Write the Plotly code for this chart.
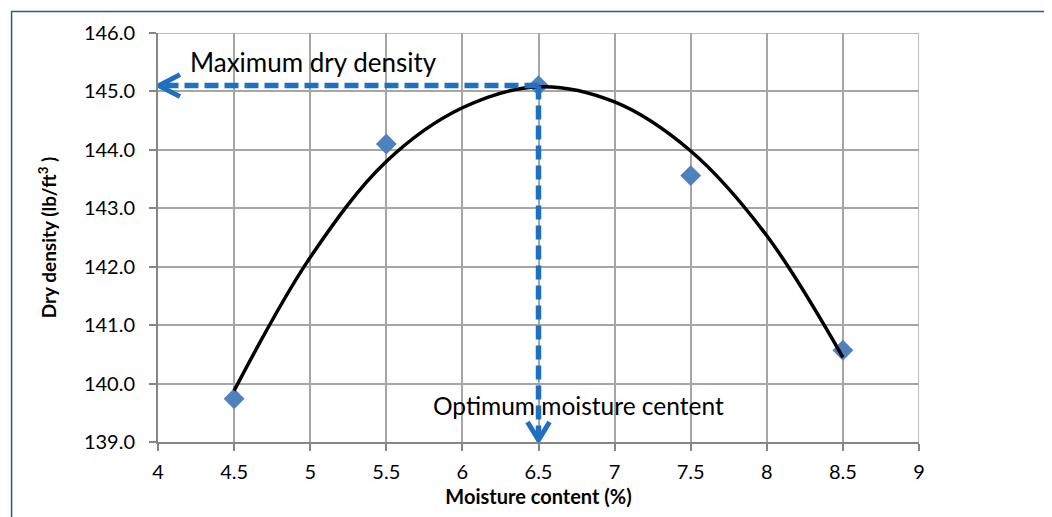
import plotly.graph_objects as go

# measured points
moisture = [4.5, 5.5, 6.5, 7.5, 8.5]
dry_density = [139.74, 144.1, 145.1, 143.56, 140.57]

# trendline
trend_x = [4.5, 5.0, 5.5, 6.0, 6.5, 7.0, 7.5, 8.0, 8.5]
trend_y = [139.88, 142.16, 143.8, 144.72, 145.08, 144.82, 143.98, 142.53, 140.45]

x_ticks = [4, 4.5, 5, 5.5, 6, 6.5, 7, 7.5, 8, 8.5, 9]
y_ticks = [139, 140, 141, 142, 143, 144, 145, 146]

opt_x = 6.5
max_y = 145.1

blue = '#1f70c0'
grid = '#a6a6a6'
font = 'Lato, "Open Sans", sans-serif'

fig = go.Figure()
fig.add_trace(go.Scatter(x=moisture, y=dry_density, mode='markers',
                         marker={'symbol': 'diamond', 'size': 16, 'color': '#4f81bd'},
                         showlegend=False, cliponaxis=False))
fig.add_trace(go.Scatter(x=trend_x, y=trend_y, mode='lines',
                         line={'color': 'black', 'width': 3.5, 'shape': 'spline'},
                         showlegend=False))

x_min, y_min = x_ticks[0], y_ticks[0]
dash = '14px,6px'
shapes = [
    # dashed shafts
    {'type': 'line', 'xref': 'x', 'yref': 'y', 'x0': opt_x, 'x1': x_min + 0.03,
     'y0': max_y, 'y1': max_y, 'line': {'color': blue, 'width': 5.5, 'dash': dash}},
    {'type': 'line', 'xref': 'x', 'yref': 'y', 'x0': opt_x, 'x1': opt_x,
     'y0': max_y, 'y1': y_min + 0.05, 'line': {'color': blue, 'width': 5.5, 'dash': dash}},
    # open arrow heads
    {'type': 'path', 'xref': 'x', 'yref': 'y', 'xsizemode': 'pixel', 'ysizemode': 'pixel',
     'xanchor': x_min, 'yanchor': max_y, 'path': 'M 22,11 L 1,0 L 22,-11',
     'line': {'color': blue, 'width': 5}},
    {'type': 'path', 'xref': 'x', 'yref': 'y', 'xsizemode': 'pixel', 'ysizemode': 'pixel',
     'xanchor': opt_x, 'yanchor': y_min, 'path': 'M -11,20 L 0,2 L 11,20',
     'line': {'color': blue, 'width': 5}},
    # outer frame
    {'type': 'rect', 'xref': 'paper', 'yref': 'paper', 'x0': -0.1924, 'x1': 1.1674,
     'y0': -0.2, 'y1': 1.0525, 'line': {'color': '#2b5d80', 'width': 1.5}, 'layer': 'below'},
    # right and top edges of the grid
    {'type': 'line', 'xref': 'x', 'yref': 'paper', 'x0': 9, 'x1': 9, 'y0': 0, 'y1': 1,
     'line': {'color': grid, 'width': 1.5}, 'layer': 'below'},
    {'type': 'line', 'xref': 'paper', 'yref': 'y', 'x0': 0, 'x1': 1, 'y0': 146, 'y1': 146,
     'line': {'color': grid, 'width': 1.5}, 'layer': 'below'},
]

# page body has an 8px margin, so the figure is sized to fit the window
fig.update_layout(
    width=1044, height=509,
    margin={'l': 149.5, 'r': 133, 't': 24.5, 'b': 75.3},
    paper_bgcolor='white', plot_bgcolor='white',
    font={'family': font, 'color': 'black'},
    shapes=shapes,
    xaxis={'range': [4, 9], 'tickvals': x_ticks, 'ticktext': [f'{v:g}' for v in x_ticks],
           'showgrid': True, 'gridcolor': grid, 'gridwidth': 1.5,
           'showline': True, 'linecolor': '#868686', 'linewidth': 2,
           'ticks': 'outside', 'ticklen': 7, 'tickcolor': '#868686', 'tickwidth': 2,
           'ticklabelstandoff': 4,
           'tickfont': {'size': 20}, 'zeroline': False,
           'title': {'text': '<b>Moisture content (%)</b>', 'font': {'size': 20}, 'standoff': 8}},
    yaxis={'range': [139, 146], 'tickvals': y_ticks, 'ticktext': [f'{v:.1f}' for v in y_ticks],
           'showgrid': True, 'gridcolor': grid, 'gridwidth': 1.5,
           'showline': True, 'linecolor': '#868686', 'linewidth': 2,
           'ticks': 'outside', 'ticklen': 7, 'tickcolor': '#868686', 'tickwidth': 2,
           'ticklabelstandoff': 10,
           'tickfont': {'size': 20}, 'zeroline': False,
           'title': {'text': '<b>Dry density (lb/ft<sup>3</sup> )</b>', 'font': {'size': 19}, 'standoff': 22}},
    annotations=[
        {'x': 4.2, 'y': 145.5, 'xref': 'x', 'yref': 'y', 'text': 'Maximum dry density',
         'showarrow': False, 'xanchor': 'left', 'font': {'size': 26}},
        {'x': 6.76, 'y': 139.63, 'xref': 'x', 'yref': 'y', 'text': 'Optimum moisture centent',
         'showarrow': False, 'xanchor': 'center', 'font': {'size': 24.5}},
    ],
)

fig.write_html('out.html')
